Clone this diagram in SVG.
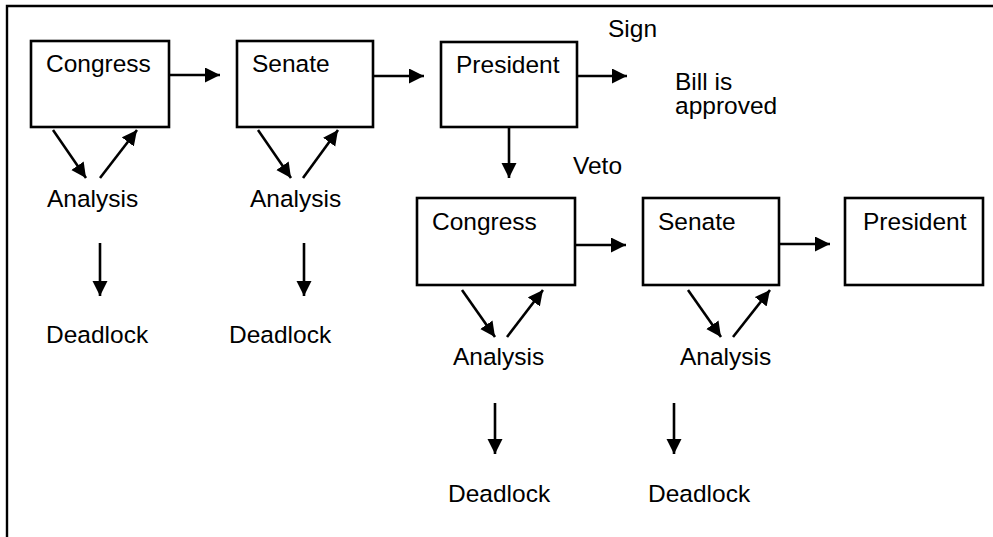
<svg xmlns="http://www.w3.org/2000/svg" width="993" height="537" viewBox="0 0 993 537">
<style>
  .box { fill: #fff; stroke: #000; stroke-width: 2.6; }
  .lbl { font-family: "Liberation Sans", Arial, sans-serif; font-size: 24.5px; fill: #000; }
  .con { stroke: #000; stroke-width: 2.6; fill: none; marker-end: url(#ah); }
  .frame { stroke: #000; stroke-width: 2.4; fill: none; }
</style>
<defs>
  <marker id="ah" markerUnits="userSpaceOnUse" markerWidth="16" markerHeight="16" refX="15" refY="7.5" orient="auto">
    <path d="M0,0 L15,7.5 L0,15 z" fill="#000"/>
  </marker>
</defs>
<rect width="993" height="537" fill="#fff"/>
<path class="frame" d="M7,537 L7,6 L993,6"/>

<g id="congress1"><rect class="box" x="31" y="41" width="138" height="86"/><text class="lbl" x="46" y="72">Congress</text></g>
<g id="senate1"><rect class="box" x="237" y="41" width="136" height="86"/><text class="lbl" x="252" y="72">Senate</text></g>
<g id="president1"><rect class="box" x="441" y="42" width="136" height="85"/><text class="lbl" x="456" y="73">President</text></g>
<g id="sign"><text class="lbl" x="608" y="37">Sign</text></g>
<g id="approved"><text class="lbl" x="675" y="90"><tspan x="675" y="90">Bill is</tspan><tspan x="675" y="114">approved</tspan></text></g>
<g id="veto"><text class="lbl" x="573" y="174">Veto</text></g>
<g id="analysis1"><text class="lbl" x="47" y="207">Analysis</text></g>
<g id="analysis2"><text class="lbl" x="250" y="207">Analysis</text></g>
<g id="deadlock1"><text class="lbl" x="46" y="343">Deadlock</text></g>
<g id="deadlock2"><text class="lbl" x="229" y="343">Deadlock</text></g>

<g id="congress2"><rect class="box" x="417" y="198" width="158" height="87"/><text class="lbl" x="432" y="230">Congress</text></g>
<g id="senate2"><rect class="box" x="643" y="198" width="136" height="87"/><text class="lbl" x="658" y="230">Senate</text></g>
<g id="president2"><rect class="box" x="845" y="198" width="138" height="87"/><text class="lbl" x="863" y="230">President</text></g>
<g id="analysis3"><text class="lbl" x="453" y="365">Analysis</text></g>
<g id="analysis4"><text class="lbl" x="680" y="365">Analysis</text></g>
<g id="deadlock3"><text class="lbl" x="448" y="502">Deadlock</text></g>
<g id="deadlock4"><text class="lbl" x="648" y="502">Deadlock</text></g>

<g id="connectors">
  <line class="con" x1="169" y1="75" x2="220" y2="75"/>
  <line class="con" x1="373" y1="76" x2="424" y2="76"/>
  <line class="con" x1="577" y1="76" x2="627" y2="76"/>
  <line class="con" x1="509" y1="127" x2="509" y2="178"/>
  <line class="con" x1="53" y1="130" x2="86" y2="178"/>
  <line class="con" x1="100" y1="178" x2="137" y2="130"/>
  <line class="con" x1="258" y1="130" x2="291" y2="178"/>
  <line class="con" x1="303" y1="178" x2="338" y2="130"/>
  <line class="con" x1="100" y1="243" x2="100" y2="296"/>
  <line class="con" x1="304" y1="243" x2="304" y2="296"/>
  <line class="con" x1="575" y1="245" x2="626" y2="245"/>
  <line class="con" x1="779" y1="244" x2="830" y2="244"/>
  <line class="con" x1="462" y1="290" x2="495" y2="337"/>
  <line class="con" x1="507" y1="337" x2="543" y2="290"/>
  <line class="con" x1="688" y1="290" x2="721" y2="337"/>
  <line class="con" x1="733" y1="337" x2="770" y2="290"/>
  <line class="con" x1="495" y1="403" x2="495" y2="454"/>
  <line class="con" x1="674" y1="403" x2="674" y2="454"/>
</g>
</svg>
